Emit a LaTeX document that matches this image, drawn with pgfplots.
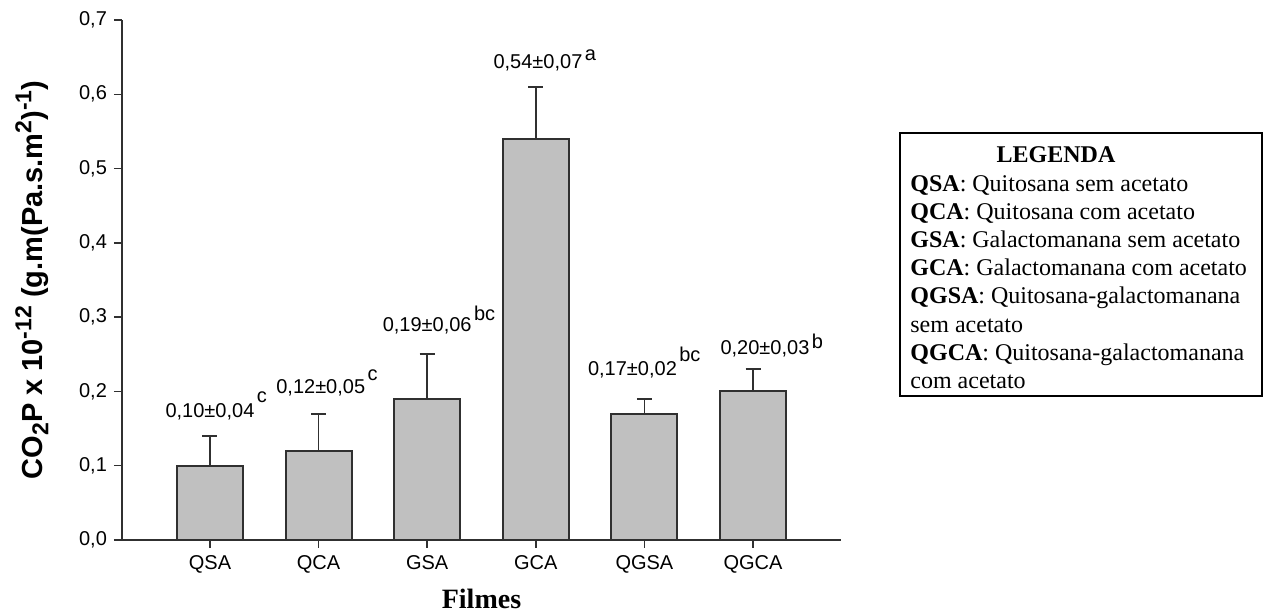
\documentclass[border=0pt]{standalone}
\usepackage{fontspec}
\setmainfont{Liberation Sans}
\newfontfamily\timesfont{Liberation Serif}
\usepackage{pgfplots}
\pgfplotsset{compat=1.18}
\definecolor{barfill}{HTML}{C0C0C0}
\definecolor{edge}{HTML}{303030}
\newcommand\vl[3]{#1\rlap{\kern1.2pt\raisebox{#3}{#2}}}
\newcommand\sups[1]{\raisebox{0.75ex}{\fontsize{11.5}{12}\selectfont #1}}
\newcommand\subs[1]{\raisebox{-0.35ex}{\fontsize{11.5}{12}\selectfont #1}}
\begin{document}
\begin{tikzpicture}
\path[use as bounding box] (0,0) rectangle (632pt,306.5pt);
\begin{axis}[
  at={(61pt,36.5pt)}, anchor=south west,
  scale only axis, width=359.5pt, height=260pt,
  xmin=-0.81, xmax=5.81, ymin=0, ymax=0.7,
  axis lines=left, axis line style={-, line width=0.7pt, edge},
  xtick={0,1,2,3,4,5}, xticklabels={QSA,QCA,GSA,GCA,QGSA,QGCA},
  ytick={0,0.1,0.2,0.3,0.4,0.5,0.6,0.7},
  tick align=outside, major tick length=4pt,
  tick style={line width=0.7pt, edge},
  yticklabel style={/pgf/number format/.cd, use comma, fixed, fixed zerofill, precision=1, assume math mode=true},
  ticklabel style={font=\fontsize{10}{12}\selectfont},
  xlabel={\timesfont\bfseries Filmes},
  xlabel style={font=\fontsize{14}{16}\selectfont, at={(axis description cs:0.5,-0.1327)}, anchor=base},
  ylabel={\bfseries CO\subs{2}P x 10\sups{-12} (g.m(Pa.s.m\sups{2})\sups{-1})},
  ylabel style={font=\fontsize{14.5}{16}\selectfont, at={(axis description cs:-0.1099,0.5)}, anchor=base, rotate=0},
  clip=false,
]
\addplot[ybar, bar width=33pt, fill=barfill, draw=edge, line width=1pt,
  error bars/.cd, y dir=plus, y explicit,
  error bar style={line width=0.8pt, edge},
  error mark options={rotate=90, mark size=3.75pt, line width=0.8pt, edge}]
  table[x=x, y=y, y error=e] {
x y e
0 0.10 0.04
1 0.12 0.05
2 0.19 0.06
3 0.54 0.07
4 0.17 0.02
5 0.20 0.03
};
\begin{scope}[every node/.style={anchor=base, font=\fontsize{10}{12}\selectfont, inner sep=0pt}]
\node at (axis cs:0,0.165) {\vl{0,10±0,04}{c}{7.5pt}};
\node at (axis cs:1.02,0.197) {\vl{0,12±0,05}{c}{6.5pt}};
\node at (axis cs:2.0,0.280) {\vl{0,19±0,06}{bc}{5.5pt}};
\node at (axis cs:3.02,0.635) {\vl{0,54±0,07}{a}{4pt}};
\node at (axis cs:3.89,0.222) {\vl{0,17±0,02}{bc}{7pt}};
\node at (axis cs:5.11,0.250) {\vl{0,20±0,03}{b}{3pt}};
\end{scope}
\end{axis}
\draw[line width=1pt] (450pt,108.5pt) rectangle (631pt,240pt);
\begin{scope}[every node/.style={font=\timesfont\fontsize{12}{14}\selectfont, inner sep=0pt}]
\node[anchor=base] at (528pt,225pt) {\bfseries LEGENDA};
\node[anchor=base west] at (455pt,210.9pt) {\textbf{QSA}: Quitosana sem acetato};
\node[anchor=base west] at (455pt,196.8pt) {\textbf{QCA}: Quitosana com acetato};
\node[anchor=base west] at (455pt,182.7pt) {\textbf{GSA}: Galactomanana sem acetato};
\node[anchor=base west] at (455pt,168.6pt) {\textbf{GCA}: Galactomanana com acetato};
\node[anchor=base west] at (455pt,154.5pt) {\textbf{QGSA}: Quitosana-galactomanana};
\node[anchor=base west] at (455pt,140.4pt) {sem acetato};
\node[anchor=base west] at (455pt,126.3pt) {\textbf{QGCA}: Quitosana-galactomanana};
\node[anchor=base west] at (455pt,112.2pt) {com acetato};
\end{scope}
\end{tikzpicture}
\end{document}
